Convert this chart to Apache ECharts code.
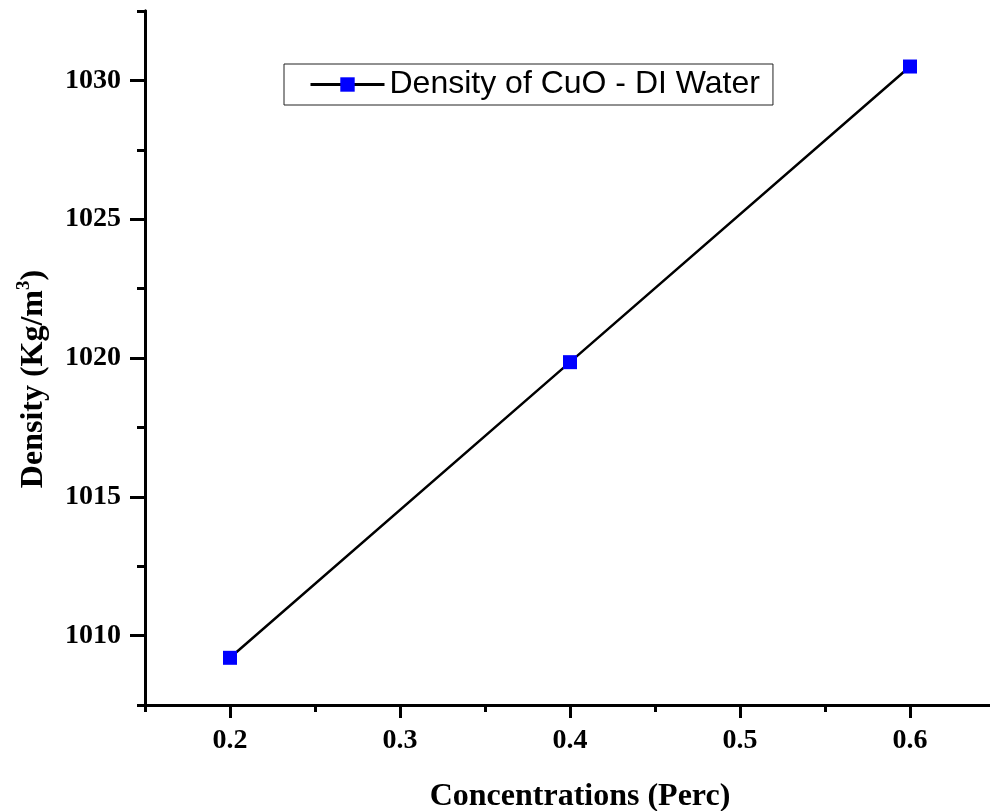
<!DOCTYPE html>
<html>
<head>
<meta charset="utf-8">
<script src="https://cdn.jsdelivr.net/npm/echarts@6/dist/echarts.min.js"></script>
<style>
html,body{margin:0;padding:0;background:#fff;}
#chart{width:990px;height:811px;}
</style>
</head>
<body>
<div id="chart"></div>
<script>
const concentrations = [0.2, 0.4, 0.6];
const densities = [1009.2, 1019.85, 1030.5];
const seriesName = 'Density of CuO - DI Water';
const xMajorTicks = [0.2, 0.3, 0.4, 0.5, 0.6];
const xMinorTicks = [0.15, 0.25, 0.35, 0.45, 0.55, 0.65];
const yMajorTicks = [1010, 1015, 1020, 1025, 1030];
const yMinorTicks = [1007.5, 1012.5, 1017.5, 1022.5, 1027.5, 1032.5];
const xRange = [0.15, 0.65];
const yRange = [1007.5, 1032.5];

const serif = 'Liberation Serif';
const labelStyle = {fontFamily: serif, fontWeight: 'bold', fontSize: 28, color: '#000'};
const axisLineStyle = {show: true, lineStyle: {color: '#000', width: 3}};

const chart = echarts.init(document.getElementById('chart'), null, {renderer: 'canvas'});
chart.setOption({
  backgroundColor: '#fff',
  animation: false,
  grid: {left: 145, top: 11, width: 850, height: 694, containLabel: false, outerBoundsMode: 'none'},
  legend: {
    left: 284, top: 64,
    borderColor: '#222', borderWidth: 1,
    padding: [4, 13, 4, 25],
    itemWidth: 74, itemHeight: 18,
    lineStyle: {width: 3},
    textStyle: {fontFamily: 'Liberation Sans', fontSize: 32, color: '#000', lineHeight: 33},
    data: [seriesName]
  },
  xAxis: [
    {
      type: 'value', min: xRange[0], max: xRange[1], position: 'bottom',
      axisLine: axisLineStyle,
      axisTick: {show: true, inside: false, length: 13, lineStyle: {width: 3, color: '#000'}, customValues: xMajorTicks},
      axisLabel: Object.assign({margin: 22, customValues: xMajorTicks, formatter: v => String(v)}, labelStyle),
      splitLine: {show: false},
      name: 'Concentrations (Perc)', nameLocation: 'middle', nameGap: 76,
      nameTextStyle: {fontFamily: serif, fontWeight: 'bold', fontSize: 32, color: '#000', padding: [0, 0, 0, 20]}
    },
    {
      type: 'value', min: xRange[0], max: xRange[1], position: 'bottom', offset: 0,
      axisLine: axisLineStyle,
      axisTick: {show: true, inside: false, length: 7, lineStyle: {width: 3, color: '#000'}, customValues: xMinorTicks},
      axisLabel: {show: false},
      splitLine: {show: false}
    }
  ],
  yAxis: [
    {
      type: 'value', min: yRange[0], max: yRange[1], position: 'left',
      axisLine: axisLineStyle,
      axisTick: {show: true, inside: false, length: 15, lineStyle: {width: 3, color: '#000'}, customValues: yMajorTicks},
      axisLabel: Object.assign({margin: 24, customValues: yMajorTicks, formatter: v => String(v)}, labelStyle),
      splitLine: {show: false},
      name: '{a|Density (Kg/m}{s|3}{a|)}', nameLocation: 'middle', nameGap: 92, nameRotate: 90,
      nameTextStyle: {
        padding: [0, 42, 0, 0],
        rich: {
          a: {fontFamily: serif, fontWeight: 'bold', fontSize: 32, color: '#000', lineHeight: 38},
          s: {fontFamily: serif, fontWeight: 'bold', fontSize: 19, color: '#000', verticalAlign: 'top', lineHeight: 38}
        }
      }
    },
    {
      type: 'value', min: yRange[0], max: yRange[1], position: 'left', offset: 0,
      axisLine: axisLineStyle,
      axisTick: {show: true, inside: false, length: 8, lineStyle: {width: 3, color: '#000'}, customValues: yMinorTicks},
      axisLabel: {show: false},
      splitLine: {show: false}
    }
  ],
  series: [{
    name: seriesName,
    type: 'line',
    xAxisIndex: 0, yAxisIndex: 0,
    data: concentrations.map((c, i) => [c, densities[i]]),
    symbol: 'rect', symbolSize: 14,
    itemStyle: {color: '#0000ff'},
    lineStyle: {color: '#000', width: 2.5},
    z: 3
  }]
});
</script>
</body>
</html>
